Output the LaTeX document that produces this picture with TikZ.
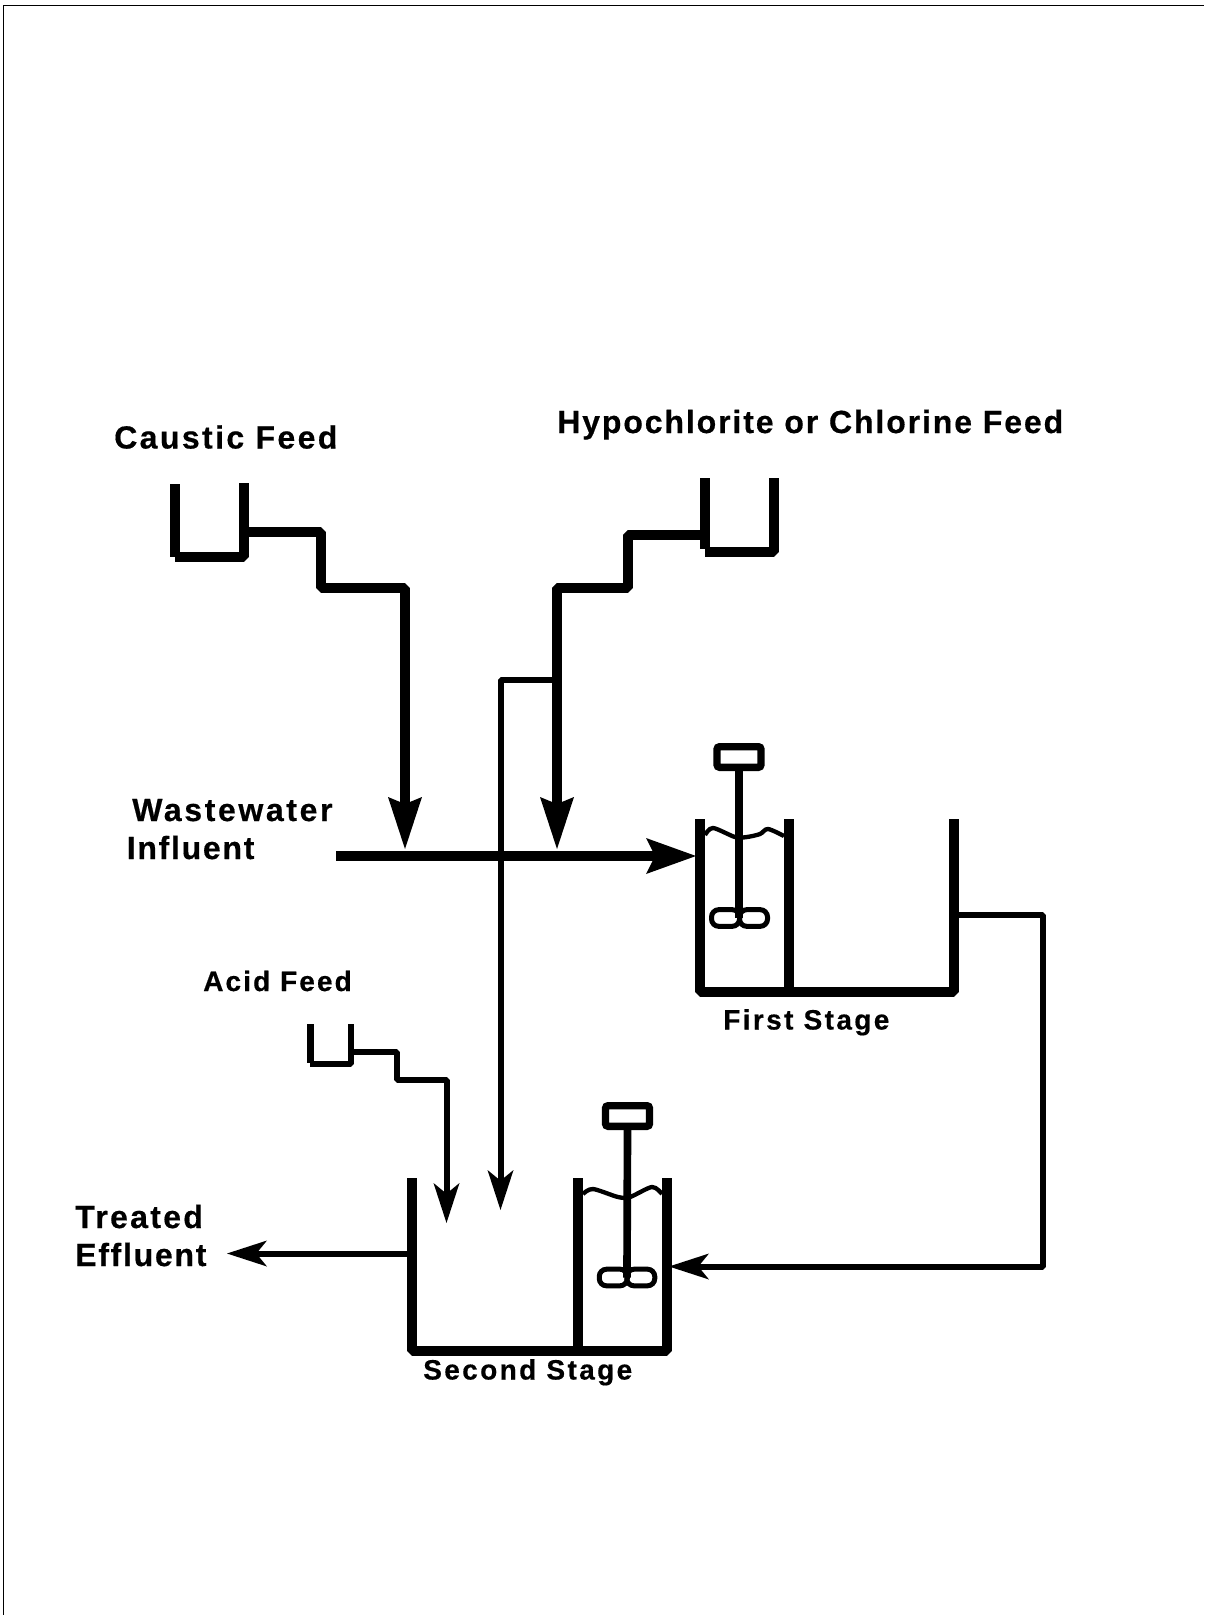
\documentclass[tikz,border=0pt]{standalone}
\usepackage{fontspec}
\setmainfont{Liberation Sans}
\usetikzlibrary{arrows.meta}
\tikzset{
  labelbig/.style={inner sep=0pt,anchor=base west,
    font=\bfseries\fontsize{24}{28}\selectfont\addfontfeature{LetterSpace=#1,FakeBold=0.5}},
  labelbig/.default=5.9,
  labelsmall/.style={inner sep=0pt,anchor=base west,
    font=\bfseries\fontsize{21}{25}\selectfont\addfontfeature{LetterSpace=#1,FakeBold=0.5}},
  labelsmall/.default=8.5,
  wall/.style={line width=7.5pt,line join=bevel},
  smallwall/.style={line width=4.75pt,line join=bevel},
  thinpipe/.style={line width=4.5pt,line join=bevel},
  bigarrow/.style={wall,-{Stealth[length=39pt,width=25.5pt,inset=5.25pt,line width=0pt]}},
  mainarrow/.style={wall,-{Stealth[length=37.5pt,width=27pt,inset=6.75pt,line width=0pt]}},
  thinarrow/.style={thinpipe,-{Stealth[length=30pt,width=19.5pt,inset=8pt,line width=0pt]}},
  motor/.style={draw,line width=5.5pt,rounded corners=2pt,inner sep=0pt,outer sep=0pt,
    minimum width=33pt,minimum height=15.5pt},
  blade/.style={draw,line width=3.75pt,rounded corners=5.5pt,inner sep=0pt,outer sep=0pt,
    minimum width=21pt,minimum height=12.5pt},
  shaft/.style={line width=5.75pt},
  water/.style={line width=3.25pt}
}
\begin{document}
\begin{tikzpicture}[x=0.75pt,y=-0.75pt]
  \useasboundingbox (0,0) rectangle (1204,1615);
  \draw[line width=1pt] (3.5,1615) -- (3.5,5.5) -- (1204,5.5);

  \node[labelbig=7.5] (caustic) at (114,448.5) {Caustic Feed};
  \node[labelbig] (hypo) at (557,433) {Hypochlorite or Chlorine Feed};
  \node[labelbig=8.2] (waste) at (132,821) {Wastewater};
  \node[labelbig=5.4] (influent) at (126.5,859) {Influent};
  \node[labelbig=7.2] (treated) at (75,1228) {Treated};
  \node[labelbig=5.4] (effluent) at (75,1266) {Effluent};
  \node[labelsmall=7.5] (acid) at (203,991) {Acid Feed};
  \node[labelsmall] (first) at (723,1029.5) {First Stage};
  \node[labelsmall] (second) at (423,1379.5) {Second Stage};

  \coordinate (w1) at (336,856);
  \coordinate (w2) at (696,856);
  \coordinate (c0) at (244,532);
  \coordinate (c1) at (320.5,532);
  \coordinate (c2) at (320.5,588);
  \coordinate (c3) at (405,588);
  \coordinate (c4) at (405,849);
  \coordinate (h0) at (704,535);
  \coordinate (h1) at (628,535);
  \coordinate (h2) at (628,588);
  \coordinate (h3) at (557,588);
  \coordinate (h4) at (557,849);
  \coordinate (b0) at (557,680);
  \coordinate (b1) at (500.5,680);
  \coordinate (b2) at (500.5,1210);
  \coordinate (a0) at (351,1052);
  \coordinate (a1) at (396.5,1052);
  \coordinate (a2) at (396.5,1080);
  \coordinate (a3) at (446.5,1080);
  \coordinate (a4) at (446.5,1223);
  \coordinate (o0) at (954,915);
  \coordinate (o1) at (1043,915);
  \coordinate (o2) at (1043,1266.5);
  \coordinate (o3) at (669,1266.5);
  \coordinate (e0) at (412,1253.5);
  \coordinate (e1) at (227,1253.5);

  \draw[wall] (174.5,484) -- (174.5,557);
  \draw[wall] (175,557) -- (244,557) -- (244,483);
  \draw[wall] (704.5,478) -- (704.5,549);
  \draw[wall] (705,551.5) -- (774,551.5) -- (774,478);
  \draw[smallwall] (310.5,1024) -- (310.5,1063);
  \draw[thinpipe] (310,1064) -- (351,1064) -- (351,1024);

  \draw[wall] (700,819) -- (700,992) -- (954,992) -- (954,819);
  \draw[wall] (789,819) -- (789,992);
  \draw[wall] (412,1178) -- (412,1351) -- (667,1351) -- (667,1178);
  \draw[wall] (578,1178) -- (578,1351);

  \draw[bigarrow] (c0) -- (c1) -- (c2) -- (c3) -- (c4);
  \draw[bigarrow] (h0) -- (h1) -- (h2) -- (h3) -- (h4);
  \draw[thinarrow] (b0) -- (b1) -- (b2);
  \draw[mainarrow] (w1) -- (w2);
  \draw[thinarrow] (a0) -- (a1) -- (a2) -- (a3) -- (a4);
  \draw[thinarrow] (o0) -- (o1) -- (o2) -- (o3);
  \draw[thinarrow] (e0) -- (e1);

  \node[motor] (motor1) at (739,757) {};
  \node[blade] (blade1l) at (725.5,918) {};
  \node[blade] (blade1r) at (753.5,918) {};
  \coordinate (hub1) at (739,918);
  \draw[shaft] (motor1.south) -- (hub1);
  \draw[water] plot[smooth] coordinates {(705,835) (713,828) (735,837) (747,837) (760,834) (768,829) (784,836)};

  \node[motor] (motor2) at (627.5,1116) {};
  \node[blade] (blade2l) at (613.25,1277.5) {};
  \node[blade] (blade2r) at (640.75,1277.5) {};
  \coordinate (hub2) at (627,1277.5);
  \draw[shaft] (motor2.south) -- (hub2);
  \draw[water] plot[smooth] coordinates {(583,1194) (593,1189) (618,1197) (630,1197) (652,1187) (662,1194)};
\end{tikzpicture}
\end{document}
